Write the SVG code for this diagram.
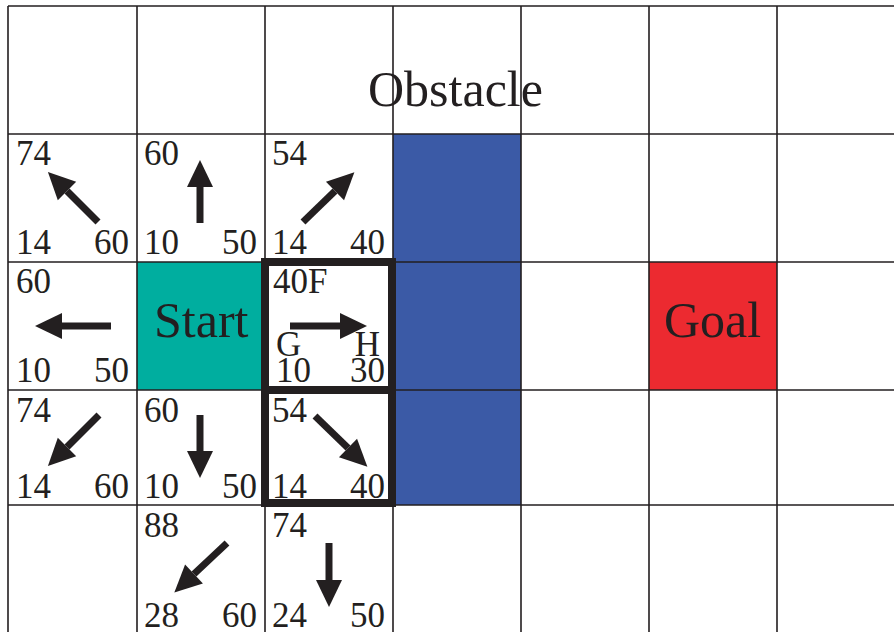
<svg xmlns="http://www.w3.org/2000/svg" width="894" height="632" viewBox="0 0 894 632">
<defs>
<marker id="ah" markerUnits="userSpaceOnUse" markerWidth="28" markerHeight="28" refX="0" refY="13" orient="auto" overflow="visible">
<path d="M0,0 L27,13 L0,26 z" fill="#231f20"/>
</marker>
<style>
.g{stroke:#231f20;stroke-width:1.6;fill:none}
.n{font-family:"Liberation Serif","Times New Roman",serif;font-size:35px;fill:#231f20}
.r{text-anchor:end}
.big{font-family:"Liberation Serif","Times New Roman",serif;font-size:50px;fill:#231f20}
.a{stroke:#231f20;stroke-width:7;fill:none;marker-end:url(#ah)}
.thick{stroke:#231f20;stroke-width:8;fill:none}
</style>
</defs>
<rect width="894" height="632" fill="#fff"/>
<g id="fills">
<rect x="393" y="134" width="128" height="371" fill="#3b5aa6"/>
<rect x="137" y="262" width="128" height="128" fill="#00ae9f"/>
<rect x="649" y="262" width="128" height="128" fill="#ec2a30"/>
</g>
<g id="grid" class="g">
<path d="M8,6V632M137,6V632M265,6V632M393,6V632M521,6V632M649,6V632M777,6V632"/>
<path d="M8,6H894M8,134H894M8,262H894M8,390H894M8,505H894"/>
</g>
<g id="obstacle"><text class="big" x="368" y="106">Obstacle</text></g>
<g id="start"><text class="big" x="154" y="337">Start</text></g>
<g id="goal"><text class="big" x="664" y="337">Goal</text></g>
<g id="c-0-1"><text class="n" x="16" y="165">74</text><text class="n" x="16" y="254">14</text><text class="n r" x="129" y="254">60</text></g>
<g id="c-1-1"><text class="n" x="144" y="165">60</text><text class="n" x="144" y="254">10</text><text class="n r" x="257" y="254">50</text></g>
<g id="c-2-1"><text class="n" x="272" y="165">54</text><text class="n" x="272" y="254">14</text><text class="n r" x="385" y="254">40</text></g>
<g id="c-0-2"><text class="n" x="16" y="293">60</text><text class="n" x="16" y="382">10</text><text class="n r" x="129" y="382">50</text></g>
<g id="c-2-2"><text class="n" x="273" y="293">40F</text><text class="n" x="276" y="356">G</text><text class="n r" x="380" y="356">H</text><text class="n" x="276" y="382">10</text><text class="n r" x="385" y="382">30</text></g>
<g id="c-0-3"><text class="n" x="16" y="422">74</text><text class="n" x="16" y="498">14</text><text class="n r" x="129" y="498">60</text></g>
<g id="c-1-3"><text class="n" x="144" y="422">60</text><text class="n" x="144" y="498">10</text><text class="n r" x="257" y="498">50</text></g>
<g id="c-2-3"><text class="n" x="272" y="422">54</text><text class="n" x="272" y="498">14</text><text class="n r" x="385" y="498">40</text></g>
<g id="c-1-4"><text class="n" x="144" y="537">88</text><text class="n" x="144" y="627">28</text><text class="n r" x="257" y="627">60</text></g>
<g id="c-2-4"><text class="n" x="272" y="537">74</text><text class="n" x="272" y="627">24</text><text class="n r" x="385" y="627">50</text></g>
<g id="frame" class="thick">
<rect x="265" y="262" width="127" height="241"/>
<path d="M265,390H392"/>
</g>
<g id="arrows">
<path class="a" d="M98,222L67,191"/>
<path class="a" d="M200,223L200,187"/>
<path class="a" d="M303,222L335,191"/>
<path class="a" d="M111,326L62,326"/>
<path class="a" d="M290,326L340,326"/>
<path class="a" d="M99,415L67,447"/>
<path class="a" d="M200,415L200,451"/>
<path class="a" d="M315,416L348,448"/>
<path class="a" d="M227,543L194,574"/>
<path class="a" d="M329,543L329,580"/>
</g>
</svg>
